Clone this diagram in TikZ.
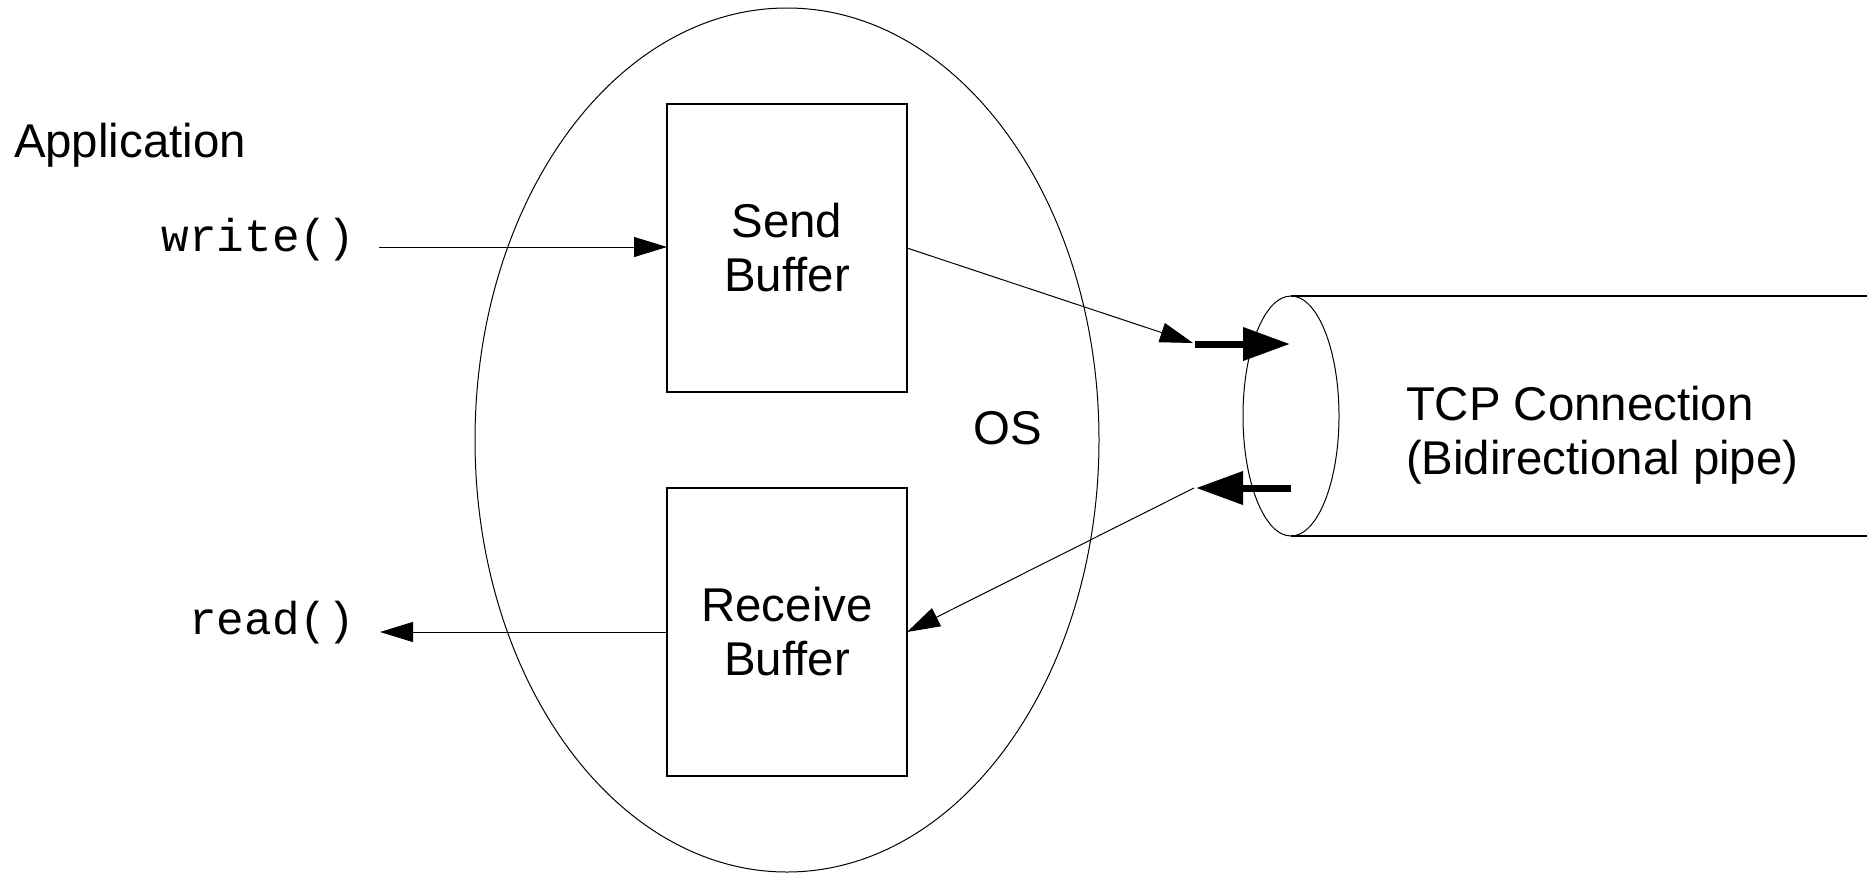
\documentclass[tikz,border=0pt]{standalone}
\usepackage{fontspec}
\setmainfont{Liberation Sans}
\setmonofont{Liberation Mono}
\usetikzlibrary{arrows.meta}
\begin{document}
\begin{tikzpicture}[x=0.5pt,y=-0.5pt,
  every node/.style={inner sep=0pt, outer sep=0pt, font=\fontsize{23.7pt}{27pt}\selectfont},
  wire/.style={line width=0.5pt},
  code/.style={font=\fontsize{23pt}{27pt}\selectfont\ttfamily},
  bufbox/.style={draw, line width=0.6pt, minimum width=120pt, minimum height=144pt, align=center},
  flow/.style={wire, -{Triangle[length=16.5pt, width=10pt]}},
  fat/.style={line width=3.5pt, -{Triangle[length=23.5pt, width=16pt]}}
]
\useasboundingbox (0,0) rectangle (1874,873);

% operating system region
\draw[wire] (787,440) ellipse [x radius=312, y radius=432];
\node (os) at (1008,428) {OS};

% the connection pipe
\draw[line width=0.6pt] (1291,296) -- (1867,296);
\draw[line width=0.6pt] (1291,536) -- (1867,536);
\draw[wire] (1291,416) ellipse [x radius=48, y radius=120];
% base anchor of a two-line node sits on its last line
\node[anchor=base west, align=left] (tcp) at (1406,474) {TCP Connection\\(Bidirectional pipe)};

% application side
\node[anchor=base west] (app) at (14,157) {Application};
\node[code, anchor=base east] (wr) at (355,251) {write()};
\node[code, anchor=base east] (rd) at (355,634) {read()};

% kernel buffers
\node[bufbox] (send) at (787,248) {Send\\Buffer};
\node[bufbox] (recv) at (787,632) {Receive\\Buffer};

% connector end points
\coordinate (wrout) at (379,247);
\coordinate (rdin) at (380,632);
\coordinate (sendtip) at (1193,343);
\coordinate (recvtail) at (1194,488);
\coordinate (inA) at (1195,344);
\coordinate (outA) at (1290,344);
\coordinate (inB) at (1291,488);
\coordinate (outB) at (1196,488);

% data flow
\draw[flow] (wrout) -- (send.west |- wrout);
\draw[flow] (recv.west |- rdin) -- (rdin);
\draw[flow] (send.east) -- (sendtip);
\draw[flow] (recvtail) -- (recv.east);
\draw[fat] (inA) -- (outA);
\draw[fat] (inB) -- (outB);
\end{tikzpicture}
\end{document}
